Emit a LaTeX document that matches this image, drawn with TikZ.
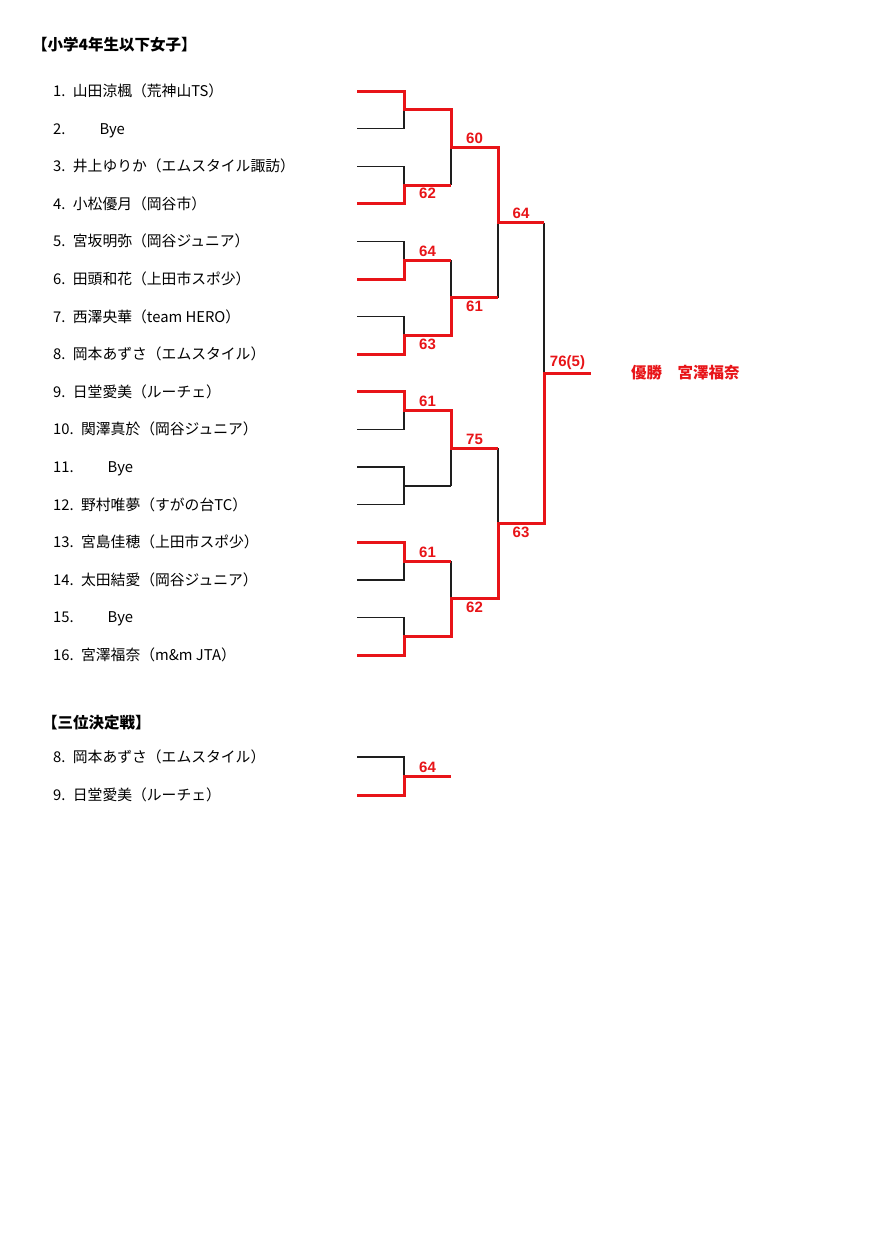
\documentclass[tikz,border=0pt]{standalone}
\usepackage{fontspec}
\setmainfont{Noto Sans CJK JP}
\newfontfamily\scorefont{Liberation Sans}
\usetikzlibrary{positioning}
\definecolor{winred}{RGB}{232,20,24}
\definecolor{linegray}{RGB}{30,30,30}

\begin{document}
\begin{tikzpicture}[
  x=1pt, y=-1pt,
  entry/.style={anchor=base west, inner sep=0pt, yshift=-5.5pt, font=\fontsize{14.8}{16}\selectfont},
  heading/.style={anchor=west, inner sep=0pt, font=\fontsize{15.5}{17}\selectfont\bfseries},
  score/.style={text=winred, inner sep=2pt, font=\scorefont\fontsize{15}{16}\selectfont\bfseries},
  champ/.style={text=winred, inner sep=2pt, font=\fontsize{15.5}{17}\selectfont\bfseries},
  lose/.style={draw=linegray, line width=1.4pt},
  win/.style={draw=winred, line width=3pt, line join=miter}
]
\path[fill=white] (0,0) rectangle (890,1259);
\useasboundingbox (0,0) rectangle (890,1259);

\node[heading] (title) at (32,45) {【小学4年生以下女子】};

\node[entry] (p1) at (53,91) {1.\enspace 山田涼楓（荒神山TS）};
\node[entry] (p2) at (53,128.6) {2.\hspace{34pt}Bye};
\node[entry] (p3) at (53,166.2) {3.\enspace 井上ゆりか（エムスタイル諏訪）};
\node[entry] (p4) at (53,203.8) {4.\enspace 小松優月（岡谷市）};
\node[entry] (p5) at (53,241.4) {5.\enspace 宮坂明弥（岡谷ジュニア）};
\node[entry] (p6) at (53,279) {6.\enspace 田頭和花（上田市スポ少）};
\node[entry] (p7) at (53,316.6) {7.\enspace 西澤央華（team HERO）};
\node[entry] (p8) at (53,354.2) {8.\enspace 岡本あずさ（エムスタイル）};
\node[entry] (p9) at (53,391.8) {9.\enspace 日堂愛美（ルーチェ）};
\node[entry] (p10) at (53,429.4) {10.\enspace 関澤真於（岡谷ジュニア）};
\node[entry] (p11) at (53,467) {11.\hspace{34pt}Bye};
\node[entry] (p12) at (53,504.6) {12.\enspace 野村唯夢（すがの台TC）};
\node[entry] (p13) at (53,542.2) {13.\enspace 宮島佳穂（上田市スポ少）};
\node[entry] (p14) at (53,579.8) {14.\enspace 太田結愛（岡谷ジュニア）};
\node[entry] (p15) at (53,617.4) {15.\hspace{34pt}Bye};
\node[entry] (p16) at (53,655) {16.\enspace 宮澤福奈（m\&m JTA）};

% line ends of the draw
\coordinate (l1) at (357,91);
\coordinate (l2) at (357,128.6);
\coordinate (l3) at (357,166.2);
\coordinate (l4) at (357,203.8);
\coordinate (l5) at (357,241.4);
\coordinate (l6) at (357,279);
\coordinate (l7) at (357,316.6);
\coordinate (l8) at (357,354.2);
\coordinate (l9) at (357,391.8);
\coordinate (l10) at (357,429.4);
\coordinate (l11) at (357,467);
\coordinate (l12) at (357,504.6);
\coordinate (l13) at (357,542.2);
\coordinate (l14) at (357,579.8);
\coordinate (l15) at (357,617.4);
\coordinate (l16) at (357,655);

% first round
\coordinate (a1) at (404,109.8);  \coordinate (b1) at (451,109.8);
\coordinate (a2) at (404,185);    \coordinate (b2) at (451,185);
\coordinate (a3) at (404,260.2);  \coordinate (b3) at (451,260.2);
\coordinate (a4) at (404,335.4);  \coordinate (b4) at (451,335.4);
\coordinate (a5) at (404,410.6);  \coordinate (b5) at (451,410.6);
\coordinate (a6) at (404,485.8);  \coordinate (b6) at (451,485.8);
\coordinate (a7) at (404,561);    \coordinate (b7) at (451,561);
\coordinate (a8) at (404,636.2);  \coordinate (b8) at (451,636.2);
% second round
\coordinate (c1) at (451,147.4);  \coordinate (d1) at (498,147.4);
\coordinate (c2) at (451,297.8);  \coordinate (d2) at (498,297.8);
\coordinate (c3) at (451,448.2);  \coordinate (d3) at (498,448.2);
\coordinate (c4) at (451,598.6);  \coordinate (d4) at (498,598.6);
% semi final and final
\coordinate (e1) at (498,222.6);  \coordinate (f1) at (544,222.6);
\coordinate (e2) at (498,523.4);  \coordinate (f2) at (544,523.4);
\coordinate (g) at (544,373);     \coordinate (h) at (591,373);

% lost lines
\draw[lose] (l2) -| (a1);
\draw[lose] (l3) -| (a2);
\draw[lose] (l5) -| (a3);
\draw[lose] (l7) -| (a4);
\draw[lose] (l10) -| (a5);
\draw[lose] (l11) -| (a6) -- (b6);
\draw[lose] (l12) -| (a6);
\draw[lose] (l14) -| (a7);
\draw[lose] (l15) -| (a8);
\draw[lose] (b2) -- (c1);
\draw[lose] (b3) -- (c2);
\draw[lose] (b6) -- (c3);
\draw[lose] (b7) -- (c4);
\draw[lose] (d2) -- (e1);
\draw[lose] (d3) -- (e2);
\draw[lose] (f1) -- (g);

% won lines
\draw[win] (l1) -| (a1) -- (b1) -- (c1) -- (d1) node[score, midway, above] (r2a) {60}
  -- (e1) -- (f1) node[score, midway, above] (r3a) {64};
\draw[win] (l4) -| (a2) -- (b2) node[score, midway, below] (r1b) {62};
\draw[win] (l6) -| (a3) -- (b3) node[score, midway, above] (r1c) {64};
\draw[win] (l8) -| (a4) -- (b4) node[score, midway, below] (r1d) {63}
  -- (c2) -- (d2) node[score, midway, below] (r2b) {61};
\draw[win] (l9) -| (a5) -- (b5) node[score, midway, above] (r1e) {61}
  -- (c3) -- (d3) node[score, midway, above] (r2c) {75};
\draw[win] (l13) -| (a7) -- (b7) node[score, midway, above] (r1g) {61};
\draw[win] (l16) -| (a8) -- (b8) -- (c4) -- (d4) node[score, midway, below] (r2d) {62}
  -- (e2) -- (f2) node[score, midway, below] (r3b) {63}
  -- (g) -- (h) node[score, midway, above] (fin) {76(5)};

\node[champ, right=38pt of h] (winner) {優勝　宮澤福奈};

% third place
\node[heading] (third) at (42,723) {【三位決定戦】};
\node[entry] (q8) at (53,757) {8.\enspace 岡本あずさ（エムスタイル）};
\node[entry] (q9) at (53,795) {9.\enspace 日堂愛美（ルーチェ）};
\coordinate (m1) at (357,757);
\coordinate (m2) at (357,795);
\coordinate (n) at (404,776);
\coordinate (o) at (451,776);
\draw[lose] (m1) -| (n);
\draw[win] (m2) -| (n) -- (o) node[score, midway, above] (r3rd) {64};
\end{tikzpicture}
\end{document}
